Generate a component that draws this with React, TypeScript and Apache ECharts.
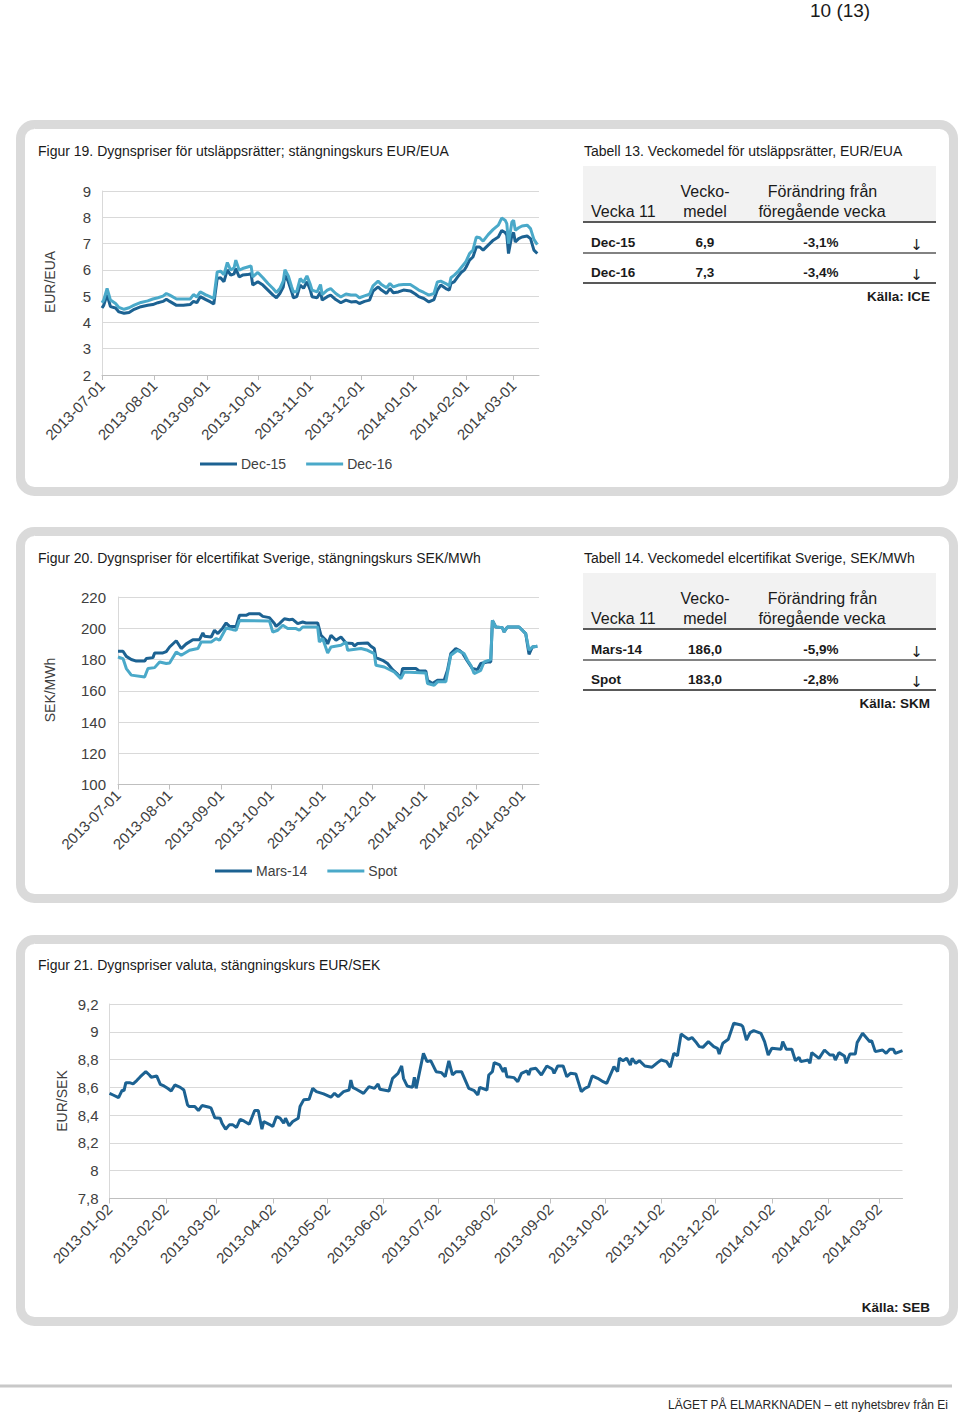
import React, { useEffect, useRef } from "react";
import * as echarts from "echarts";

// ---------- data ----------
const DAY = 864e5;
const baseH2 = Date.UTC(2013, 6, 1); // day 0 for figures 19 & 20
const baseSek = Date.UTC(2013, 0, 2); // day 0 for figure 21

const monthTicksH2 = ["2013-07-01", "2013-08-01", "2013-09-01", "2013-10-01", "2013-11-01", "2013-12-01", "2014-01-01", "2014-02-01", "2014-03-01"];
const monthTicksSek = ["2013-01-02", "2013-02-02", "2013-03-02", "2013-04-02", "2013-05-02", "2013-06-02", "2013-07-02", "2013-08-02", "2013-09-02", "2013-10-02", "2013-11-02", "2013-12-02", "2014-01-02", "2014-02-02", "2014-03-02"];

// Figur 19 – [day since 2013-07-01, EUR/EUA]
const dec15: [number, number][] = [[0,4.55],[1,4.65],[3,5.05],[5,4.6],[8,4.55],[10,4.4],[13,4.35],[16,4.38],[19,4.5],[23,4.6],[27,4.65],[30,4.68],[33,4.75],[36,4.8],[38,4.88],[40,4.8],[44,4.65],[48,4.65],[52,4.68],[54,4.8],[56,4.75],[58,4.98],[61,4.88],[64,4.78],[66,4.7],[68,5.67],[70,5.7],[72,5.55],[74,6.0],[76,5.8],[78,5.85],[79,6.05],[81,5.73],[83,5.8],[86,5.82],[88,5.85],[89,5.42],[92,5.55],[95,5.42],[98,5.23],[101,5.04],[103,4.94],[105,5.1],[107,5.35],[108,5.8],[110,5.55],[112,5.16],[113,4.94],[115,4.98],[117,5.42],[119,5.3],[121,5.55],[123,5.23],[124,4.98],[127,4.94],[129,5.16],[130,4.85],[133,4.98],[135,5.04],[138,4.87],[141,4.75],[144,4.85],[147,4.78],[150,4.8],[152,4.72],[155,4.8],[158,4.85],[160,5.19],[163,5.35],[165,5.23],[168,5.1],[170,5.29],[172,5.13],[175,5.16],[178,5.23],[182,5.2],[185,5.08],[187,4.98],[190,4.91],[193,4.78],[196,4.87],[198,5.23],[200,5.42],[203,5.29],[205,5.23],[206,5.48],[208,5.55],[210,5.73],[212,5.9],[214,6.0],[215,6.11],[217,6.37],[219,6.49],[221,6.87],[223,6.87],[225,6.75],[228,6.94],[231,7.13],[234,7.25],[236,7.5],[238,7.42],[239,7.32],[240,6.62],[242,7.32],[243,7.42],[244,7.06],[246,7.19],[248,7.25],[251,7.29],[253,7.19],[255,6.75],[257,6.62]];
const dec16: [number, number][] = [[0,4.75],[1,4.85],[3,5.29],[5,4.85],[8,4.72],[10,4.57],[13,4.5],[16,4.56],[19,4.66],[23,4.76],[27,4.82],[30,4.89],[33,4.94],[36,5.0],[38,5.1],[40,5.04],[44,4.89],[48,4.89],[52,4.89],[54,5.06],[56,4.97],[58,5.16],[61,5.06],[64,4.97],[66,4.91],[68,5.92],[70,5.95],[72,5.82],[74,6.28],[76,5.99],[78,6.08],[79,6.37],[81,5.99],[83,6.05],[86,6.11],[88,6.15],[89,5.73],[92,5.9],[95,5.7],[98,5.48],[101,5.29],[103,5.14],[105,5.29],[107,5.57],[108,6.01],[110,5.77],[112,5.35],[113,5.16],[115,5.18],[117,5.67],[119,5.52],[121,5.77],[123,5.44],[124,5.23],[127,5.16],[129,5.44],[130,5.06],[133,5.23],[135,5.29],[138,5.1],[141,4.97],[144,5.08],[147,5.04],[150,5.04],[152,4.94],[155,5.01],[158,5.08],[160,5.39],[163,5.57],[165,5.44],[168,5.32],[170,5.48],[172,5.35],[175,5.42],[178,5.44],[182,5.44],[185,5.32],[187,5.23],[190,5.14],[193,5.04],[196,5.1],[198,5.54],[200,5.57],[203,5.48],[205,5.39],[206,5.7],[208,5.8],[210,5.92],[212,6.08],[214,6.24],[215,6.33],[217,6.62],[219,6.75],[221,7.25],[223,7.22],[225,7.09],[228,7.34],[231,7.54],[234,7.7],[236,7.97],[238,7.89],[239,7.76],[240,7.0],[242,7.82],[243,7.89],[244,7.51],[246,7.6],[248,7.67],[251,7.7],[253,7.57],[255,7.16],[257,6.96]];

// Figur 20 – [day since 2013-07-01, SEK/MWh]
const mars14: [number, number][] = [[0,185.3],[3,185.3],[5,182],[8,180],[11,179],[16,179],[17,180.6],[21,181.2],[22,184.2],[27,184.2],[29,185],[31,188],[35,192],[38,187],[41,190],[45,192.7],[49,192.7],[51,197],[52,194.9],[56,194.4],[58,198.7],[60,196.6],[63,200.2],[65,203.4],[67,201.2],[71,201.2],[73,208.3],[77,208.3],[79,209.3],[85,209.3],[87,207.6],[91,206.8],[94,203],[95,201.2],[97,203],[100,206.1],[103,205.5],[105,205.7],[108,203],[111,204],[113,203.4],[120,203.4],[122,195.5],[125,192.3],[126,190],[128,195.5],[131,192.3],[134,194.4],[137,190.6],[141,190.2],[142,188.7],[144,190.2],[150,190.6],[152,188.5],[154,187],[155,181.2],[159,179.5],[162,177.4],[165,173.5],[168,170.6],[170,168.4],[171,174.2],[179,174.2],[181,172.7],[185,172.7],[186,166.7],[189,164.6],[192,166.7],[196,166.7],[198,173.1],[200,183.8],[203,187],[205,185.9],[207,184.2],[209,180.6],[211,177.4],[213,174.2],[216,173.5],[218,177.4],[222,178.4],[224,178.4],[225,205],[227,200.8],[231,200.4],[232,197.6],[234,200.8],[241,200.8],[243,198.7],[245,196.6],[247,183.3],[249,188],[252,188.5]];
const spot: [number, number][] = [[0,181.6],[3,180.6],[5,174.2],[8,170],[16,168.8],[18,174.2],[22,174.8],[25,178.4],[29,177.4],[31,177.8],[35,184.8],[38,182.7],[43,185.9],[48,187],[50,191.2],[56,191.2],[59,193.4],[61,192.3],[65,200.2],[69,199.1],[71,198.7],[73,205],[91,204.7],[93,197.6],[96,198.7],[99,201.9],[102,199.8],[107,199.8],[109,198.7],[111,200.8],[120,200.8],[121,191.2],[123,193.4],[126,184.2],[128,188],[134,189.1],[137,191.2],[138,185.9],[146,187],[150,185.9],[154,183.8],[155,176.3],[160,175.2],[166,172],[170,167.8],[172,172],[185,171.4],[186,164.6],[190,163.5],[192,165.7],[197,165.7],[200,182.7],[204,185.9],[208,183.8],[210,179.5],[212,176.3],[214,171],[218,173.1],[220,178.4],[224,179.9],[225,205],[227,200.8],[231,200.4],[232,197.6],[234,200.8],[241,200.8],[243,198.7],[245,196.6],[247,185.9],[249,188],[252,188.5]];

// Figur 21 – [day since 2013-01-02, EUR/SEK]
const eurSek: [number, number][] = [[0,8.557],[2,8.545],[5,8.526],[7,8.58],[8,8.576],[9,8.634],[11,8.634],[13,8.625],[15,8.649],[17,8.677],[20,8.713],[22,8.689],[23,8.673],[26,8.682],[28,8.622],[30,8.61],[32,8.593],[34,8.574],[36,8.617],[39,8.6],[41,8.581],[43,8.474],[44,8.462],[47,8.462],[49,8.433],[51,8.469],[55,8.457],[56,8.45],[58,8.382],[61,8.378],[62,8.342],[64,8.299],[66,8.33],[68,8.33],[70,8.311],[72,8.37],[74,8.358],[77,8.334],[80,8.433],[82,8.433],[84,8.299],[85,8.354],[88,8.334],[90,8.318],[92,8.39],[94,8.378],[96,8.342],[97,8.378],[99,8.323],[101,8.354],[104,8.378],[105,8.462],[107,8.51],[110,8.514],[112,8.593],[114,8.569],[118,8.553],[122,8.529],[124,8.557],[126,8.533],[129,8.569],[132,8.581],[133,8.653],[134,8.6],[136,8.586],[140,8.557],[143,8.605],[146,8.593],[148,8.625],[149,8.586],[154,8.574],[156,8.665],[159,8.701],[161,8.754],[162,8.665],[164,8.61],[167,8.6],[168,8.673],[169,8.593],[173,8.845],[175,8.785],[177,8.792],[180,8.713],[183,8.706],[185,8.677],[187,8.79],[189,8.689],[191,8.713],[194,8.713],[198,8.593],[201,8.576],[203,8.545],[204,8.6],[208,8.581],[209,8.689],[211,8.713],[212,8.778],[215,8.761],[217,8.713],[218,8.742],[219,8.677],[223,8.67],[225,8.641],[227,8.701],[230,8.718],[231,8.689],[232,8.73],[235,8.737],[238,8.689],[241,8.754],[244,8.732],[245,8.701],[247,8.754],[250,8.754],[252,8.677],[254,8.701],[257,8.696],[260,8.569],[262,8.593],[264,8.605],[266,8.682],[269,8.665],[272,8.641],[274,8.629],[278,8.749],[280,8.713],[281,8.809],[283,8.792],[285,8.809],[287,8.761],[288,8.809],[290,8.773],[292,8.792],[295,8.754],[299,8.745],[302,8.778],[304,8.797],[307,8.785],[309,8.745],[311,8.845],[313,8.828],[315,8.984],[317,8.965],[319,8.946],[321,8.958],[323,8.929],[325,8.893],[327,8.888],[330,8.929],[333,8.893],[335,8.881],[336,8.84],[338,8.917],[341,8.946],[344,9.061],[348,9.049],[349,9.037],[351,8.941],[353,8.994],[355,9.008],[359,8.989],[361,8.929],[363,8.833],[365,8.881],[370,8.874],[371,8.929],[373,8.874],[376,8.874],[378,8.792],[380,8.816],[381,8.785],[385,8.797],[386,8.773],[387,8.85],[391,8.809],[394,8.869],[397,8.833],[399,8.833],[400,8.797],[402,8.85],[405,8.826],[406,8.773],[408,8.84],[411,8.84],[412,8.922],[415,8.989],[419,8.929],[420,8.936],[422,8.857],[426,8.869],[428,8.845],[430,8.874],[432,8.874],[433,8.845],[437,8.864]];

// Tables
const tab13Rows = [["Dec-15", "6,9", "-3,1%"], ["Dec-16", "7,3", "-3,4%"]];
const tab14Rows = [["Mars-14", "186,0", "-5,9%"], ["Spot", "183,0", "-2,8%"]];

// ---------- styles ----------
const FONT = "'Liberation Sans', Arial, sans-serif";
const DARK = "#1c6292";
const LIGHT = "#4aa9c9";
const GRID_C = "#d9d9d9";
const AXIS_C = "#bfbfbf";
const LABEL_C = "#404040";
const TXT = "#1a1a1a";

function xAxisCfg(gridIndex: number, base: number, ticks: string[], max: number) {
  const vals = ticks.map((d) => (Date.parse(d) - base) / DAY);
  return {
    type: "value",
    gridIndex,
    min: 0,
    max,
    splitLine: { show: false },
    axisLine: { show: true, onZero: false, lineStyle: { color: AXIS_C } },
    axisTick: { show: true, customValues: vals, length: 5, lineStyle: { color: AXIS_C } },
    axisLabel: {
      customValues: vals,
      rotate: 45,
      margin: 8,
      fontSize: 15,
      fontFamily: FONT,
      color: LABEL_C,
      formatter: (v: number) => new Date(base + Math.round(v) * DAY).toISOString().slice(0, 10),
    },
  };
}

function yAxisCfg(gridIndex: number, min: number, max: number, interval: number, margin: number, fmt?: (v: number) => string) {
  return {
    type: "value",
    gridIndex,
    min,
    max,
    interval,
    axisLine: { show: true, onZero: false, lineStyle: { color: GRID_C } },
    axisTick: { show: false },
    splitLine: { show: true, lineStyle: { color: GRID_C, width: 1 } },
    axisLabel: { fontSize: 15, fontFamily: FONT, color: LABEL_C, margin, formatter: fmt },
  };
}

function txt(x: number, y: number, text: string, o: any = {}) {
  return {
    type: "text",
    x,
    y,
    rotation: o.rotation || 0,
    style: {
      text,
      fill: o.fill || TXT,
      fontSize: o.size || 14,
      fontFamily: o.family || FONT,
      fontWeight: o.weight || "normal",
      align: o.align || "left",
      verticalAlign: "middle",
    },
  };
}

function hline(x1: number, x2: number, y: number, w: number, c: string) {
  return { type: "line", shape: { x1, y1: y, x2, y2: y }, style: { stroke: c, lineWidth: w } };
}

function table(dy: number, title: string, rows: string[][], source: string) {
  const els: any[] = [];
  els.push(txt(584, 151 + dy, title, { size: 14 }));
  els.push({ type: "rect", shape: { x: 583, y: 166 + dy, width: 353, height: 55.5 }, style: { fill: "#f2f2f2" } });
  els.push(txt(591, 211 + dy, "Vecka 11", { size: 16 }));
  els.push(txt(705, 191.5 + dy, "Vecko-", { size: 16, align: "center" }));
  els.push(txt(705, 211 + dy, "medel", { size: 16, align: "center" }));
  els.push(txt(822.5, 191.5 + dy, "Förändring från", { size: 16, align: "center" }));
  els.push(txt(822, 211 + dy, "föregående vecka", { size: 16, align: "center" }));
  els.push(hline(583, 936, 222 + dy, 2, "#595959"));
  rows.forEach((r, i) => {
    const y = 242 + dy + i * 30;
    els.push(txt(591, y, r[0], { size: 13.5, weight: "bold" }));
    els.push(txt(705, y, r[1], { size: 13.5, weight: "bold", align: "center" }));
    els.push(txt(821, y, r[2], { size: 13.5, weight: "bold", align: "center" }));
    els.push(txt(916.5, y + 3, "↓", { size: 15, family: "'DejaVu Sans', sans-serif", align: "center" }));
    els.push(hline(583, 936, y + 11, i === 1 ? 2 : 1.5, "#595959"));
  });
  els.push(txt(930, 296 + dy, source, { size: 13.5, weight: "bold", align: "right" }));
  return els;
}

function panel(y: number, h: number) {
  return {
    type: "rect",
    z: -10,
    shape: { x: 20.5, y, width: 933, height: h, r: 14 },
    style: { fill: "none", stroke: "#dadada", lineWidth: 9 },
  };
}

const lineSeries = (name: string, data: [number, number][], color: string, idx: number) => ({
  type: "line",
  name,
  data,
  xAxisIndex: idx,
  yAxisIndex: idx,
  showSymbol: false,
  symbol: "none",
  lineStyle: { width: 3, color },
  itemStyle: { color },
  z: 3,
});

const legendCfg = (data: string[], left: number, top: number) => ({
  data,
  left,
  top,
  padding: 0,
  icon: "rect",
  itemWidth: 37,
  itemHeight: 3,
  itemGap: 20,
  textStyle: { fontSize: 14, fontFamily: FONT, color: LABEL_C, padding: [0, 0, 0, -1] },
});

export default function App() {
  const ref = useRef<HTMLDivElement>(null);
  useEffect(() => {
    if (!ref.current) return;
    const chart = echarts.init(ref.current, null, { renderer: "svg" });
    const graphics: any[] = [
      txt(810, 10, "10 (13)", { size: 19, family: "'Liberation Sans Narrow', 'Liberation Sans', Arial, sans-serif" }),
      panel(124.5, 367),
      panel(531.5, 367),
      panel(939.5, 382),
      txt(38, 151, "Figur 19. Dygnspriser för utsläppsrätter; stängningskurs EUR/EUA", { size: 14 }),
      txt(38, 558, "Figur 20. Dygnspriser för elcertifikat Sverige, stängningskurs SEK/MWh", { size: 14 }),
      txt(38, 965, "Figur 21. Dygnspriser valuta, stängningskurs EUR/SEK", { size: 14 }),
      txt(50, 282, "EUR/EUA", { size: 14, align: "center", rotation: Math.PI / 2, fill: LABEL_C }),
      txt(50, 690, "SEK/MWh", { size: 14, align: "center", rotation: Math.PI / 2, fill: LABEL_C }),
      txt(62, 1101, "EUR/SEK", { size: 14, align: "center", rotation: Math.PI / 2, fill: LABEL_C }),
      ...table(0, "Tabell 13. Veckomedel för utsläppsrätter, EUR/EUA", tab13Rows, "Källa: ICE"),
      ...table(407, "Tabell 14. Veckomedel elcertifikat Sverige, SEK/MWh", tab14Rows, "Källa: SKM"),
      txt(930, 1307, "Källa: SEB", { size: 13.5, weight: "bold", align: "right" }),
      hline(0, 952, 1386, 3, "#c8c8c8"),
      txt(948, 1405, "LÄGET PÅ ELMARKNADEN – ett nyhetsbrev från Ei", { size: 12, align: "right", fill: "#262626" }),
    ];
    const commaFmt = (v: number) => String(Math.round(v * 10) / 10).replace(".", ",");
    chart.setOption({
      animation: false,
      grid: [
        { left: 102, top: 191, width: 437, height: 184 },
        { left: 118, top: 597, width: 421, height: 187.5 },
        { left: 109.5, top: 1004, width: 793, height: 194.5 },
      ],
      xAxis: [
        xAxisCfg(0, baseH2, monthTicksH2, 258),
        xAxisCfg(1, baseH2, monthTicksH2, 253),
        xAxisCfg(2, baseSek, monthTicksSek, 437),
      ],
      yAxis: [
        yAxisCfg(0, 2, 9, 1, 11),
        yAxisCfg(1, 100, 220, 20, 12),
        yAxisCfg(2, 7.8, 9.2, 0.2, 11, commaFmt),
      ],
      legend: [legendCfg(["Dec-15", "Dec-16"], 200, 457), legendCfg(["Mars-14", "Spot"], 215, 864)],
      series: [
        lineSeries("Dec-15", dec15, DARK, 0),
        lineSeries("Dec-16", dec16, LIGHT, 0),
        lineSeries("Mars-14", mars14, DARK, 1),
        lineSeries("Spot", spot, LIGHT, 1),
        lineSeries("EUR/SEK", eurSek, DARK, 2),
      ],
      graphic: { elements: graphics },
    });
    return () => chart.dispose();
  }, []);
  return <div ref={ref} style={{ position: "absolute", left: 0, top: 0, width: 960, height: 1415, background: "#fff" }} />;
}
